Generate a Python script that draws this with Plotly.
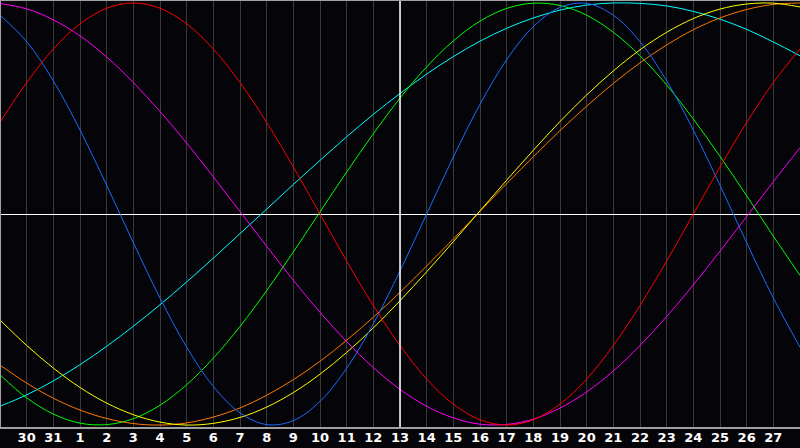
import plotly.graph_objects as go

# Day labels shown under the chart (ticks at day index 0..28)
day_labels = ["30", "31", "1", "2", "3", "4", "5", "6", "7", "8", "9", "10", "11", "12",
              "13", "14", "15", "16", "17", "18", "19", "20", "21", "22", "23", "24",
              "25", "26", "27"]
tick_index = list(range(len(day_labels)))
today_index = 14  # day "13"

# Sample positions (day index, one per day, incl. the partial days at both edges)
day_index = list(range(-1, 30))

# Values (percent) at each day
red = [43.4, 62.3, 78.2, 90.1, 97.5, 100, 97.5, 90.1, 78.2, 62.3, 43.4, 22.3, 0, -22.3,
       -43.4, -62.3, -78.2, -90.1, -97.5, -100, -97.5, -90.1, -78.2, -62.3, -43.4, -22.3,
       0, 22.3, 43.4, 62.3, 78.2]
magenta = [99.7, 97.2, 92.0, 84.4, 74.4, 62.3, 48.6, 33.6, 17.6, 1.2, -15.3, -31.4, -46.6,
           -60.5, -72.8, -83.1, -91.1, -96.6, -99.6, -99.7, -97.2, -92.0, -84.3, -74.4,
           -62.3, -48.6, -33.6, -17.6, -1.2, 15.3, 31.4]
blue = [94.2, 81.7, 63.1, 39.8, 13.6, -13.6, -39.8, -63.1, -81.7, -94.2, -99.8, -97.9,
        -88.8, -73.1, -52.0, -27.0, 0, 27.0, 52.0, 73.1, 88.8, 97.9, 99.8, 94.2, 81.7,
        63.1, 39.8, 13.6, -13.6, -39.8, -63.1]
green = [-76.2, -87.1, -94.8, -99.1, -99.8, -97.0, -90.6, -80.9, -68.3, -53.3, -36.3,
         -18.0, 1.0, 19.9, 38.0, 54.9, 69.7, 82.0, 91.4, 97.4, 99.9, 98.8, 94.2, 86.1,
         75.0, 61.1, 45.0, 27.3, 8.6, -10.5, -29.1]
cyan = [-91.1, -85.7, -79.1, -71.4, -62.7, -53.2, -43.0, -32.2, -20.9, -9.3, 2.3, 14.0,
        25.4, 36.6, 47.2, 57.1, 66.3, 74.6, 81.9, 88.0, 92.9, 96.6, 99.0, 100, 99.8, 98.6,
        96.0, 92.3, 87.5, 81.5, 75.0]
yellow = [-50.2, -62.3, -73.0, -82.2, -89.6, -95.1, -98.6, -100, -99.2, -96.4, -91.5,
          -84.6, -75.9, -65.6, -54.0, -41.1, -27.4, -13.1, 1.5, 16.0, 30.2, 43.8, 56.4,
          67.8, 77.8, 86.1, 92.6, 97.1, 99.5, 99.9, 98.1]
orange = [-71.6, -80.1, -87.3, -92.9, -96.9, -99.3, -100, -99.0, -96.2, -91.9, -85.9,
          -78.5, -69.8, -59.8, -48.9, -37.1, -24.6, -11.8, 1.3, 14.4, 27.1, 39.5, 51.1,
          61.9, 71.6, 80.1, 87.3, 92.9, 96.9, 99.3, 100]

series = [
    ("cyan", cyan, "#00ffff"),
    ("green", green, "#00ff00"),
    ("orange", orange, "#ff7a00"),
    ("yellow", yellow, "#ffff00"),
    ("blue", blue, "#1a6cff"),
    ("magenta", magenta, "#ff00ff"),
    ("red", red, "#ff0000"),
]

fig = go.Figure()
for name, vals, col in series:
    fig.add_trace(go.Scatter(x=day_index, y=vals, mode="lines", name=name,
                             line=dict(color=col, width=1, shape="spline", smoothing=1.0),
                             hoverinfo="skip"))

bg = "#050408"
fig.update_layout(
    width=800, height=448,
    margin=dict(l=0, r=0, t=0, b=20),
    paper_bgcolor=bg, plot_bgcolor=bg,
    showlegend=False,
    xaxis=dict(range=[-1, 29], tickmode="array", tickvals=tick_index,
               ticktext=["<b>%s</b>" % t for t in day_labels],
               showgrid=True, gridcolor="#3a3a3a", gridwidth=1,
               zeroline=False, ticks="", showline=False,
               tickfont=dict(family="DejaVu Sans", size=13, color="#ffffff")),
    yaxis=dict(range=[-101.4, 101.4], showgrid=False, showticklabels=False,
               zeroline=True, zerolinecolor="#ffffff", zerolinewidth=1, ticks=""),
    shapes=[
        dict(type="line", xref="x", yref="paper", x0=today_index, x1=today_index,
             y0=0, y1=1, line=dict(color="#ffffff", width=1.5), layer="above"),
        dict(type="line", xref="paper", yref="paper", x0=0, x1=1, y0=0, y1=0,
             line=dict(color="#a0a0a0", width=2)),
        dict(type="line", xref="paper", yref="paper", x0=0, x1=1, y0=1, y1=1,
             line=dict(color="#a0a0a0", width=2)),
        dict(type="line", xref="paper", yref="paper", x0=0, x1=0, y0=0, y1=1,
             line=dict(color="#a0a0a0", width=2)),
    ],
)

fig.write_html("out.html", config={"displayModeBar": False},
               post_script="document.body.style.margin='0px';document.body.style.background='#050408';")
